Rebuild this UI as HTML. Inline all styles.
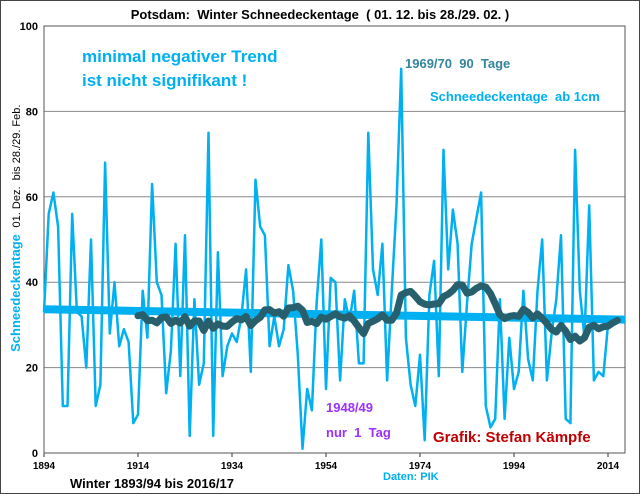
<!DOCTYPE html>
<html><head><meta charset="utf-8"><style>
body{margin:0;background:#fff}
svg{display:block;font-family:"Liberation Sans",sans-serif}
text{white-space:pre}
</style></head><body>
<svg id="c" width="640" height="494" viewBox="0 0 640 494">
<rect x="0.5" y="0.5" width="639" height="493" fill="#fff" stroke="#444"/>
<text x="320" y="19" text-anchor="middle" font-size="13" font-weight="bold">Potsdam:  Winter Schneedeckentage  ( 01. 12. bis 28./29. 02. )</text>
<g id="grid"></g>
<rect x="44" y="26" width="581" height="427" fill="none" stroke="#555"/>
<g id="marks"></g>
<text x="82" y="62" font-size="17" font-weight="bold" fill="#00b0f0">minimal negativer Trend</text>
<text x="82" y="86" font-size="17" font-weight="bold" fill="#00b0f0">ist nicht signifikant !</text>
<text x="405" y="68" font-size="13" font-weight="bold" fill="#31859c">1969/70  90  Tage</text>
<text x="430" y="101" font-size="13" font-weight="bold" fill="#00b0f0">Schneedeckentage  ab 1cm</text>
<text x="326" y="412" font-size="13" font-weight="bold" fill="#9b30ff">1948/49</text>
<text x="326" y="437" font-size="13" font-weight="bold" fill="#9b30ff">nur  1  Tag</text>
<text x="433" y="442" font-size="15" font-weight="bold" fill="#c00000">Grafik: Stefan Kämpfe</text>
<text x="20" y="293" font-size="13" font-weight="bold" fill="#00b0f0" text-anchor="middle" transform="rotate(-90 20 293)">Schneedeckentage</text>
<text x="20" y="166" font-size="11" fill="#000" text-anchor="middle" transform="rotate(-90 20 166)">01. Dez.  bis 28./29. Feb.</text>
<text x="70" y="488" font-size="13" font-weight="bold">Winter 1893/94 bis 2016/17</text>
<text x="383" y="480" font-size="11" font-weight="bold" fill="#00b0f0">Daten: PIK</text>
</svg>
<script>
const firstYear = 1894;
const snowDays = [33,56,61,53,11,11,56,33,32,20,50,11,16,68,28,40,25,29,26,7,9,38,27,63,40,37,14,24,49,18,51,4,36,16,21,75,4,47,18,25,28,26,32,43,19,64,53,51,25,32,25,29,44,38,23,1,15,10,35,50,15,41,40,17,36,31,38,21,21,75,43,37,49,17,38,58,90,27,16,11,23,3,37,45,18,71,43,57,49,19,35,49,55,61,11,6,8,36,8,27,15,19,38,22,17,38,50,17,28,36,51,8,7,71,38,27,58,17,19,18,30,31,31];
const yTicks = [0,20,40,60,80,100];
const xTicks = [1894,1914,1934,1954,1974,1994,2014];
const NS="http://www.w3.org/2000/svg";
const X0=44,PX=4.7,Y0=453,PY=4.27;
const xs=yr=>X0+(yr-1894)*PX, ys=v=>Y0-v*PY;
function mk(t,a,p){const e=document.createElementNS(NS,t);for(const k in a)e.setAttribute(k,a[k]);(p||document.getElementById('marks')).appendChild(e);return e;}
const grid=document.getElementById('grid');
yTicks.forEach(v=>{
  if(v>0&&v<100){const l=mk('line',{x1:X0,x2:625,y1:ys(v),y2:ys(v),stroke:'#888','stroke-width':1},grid);
  
  }
  const t=mk('text',{x:38,y:ys(v)+4,'text-anchor':'end','font-size':11,'font-weight':'bold'},grid);t.textContent=v;
  
  
});
xTicks.forEach(yr=>{
  mk('line',{x1:xs(yr),x2:xs(yr),y1:Y0,y2:Y0+4,stroke:'#333'},grid);
  const t=mk('text',{x:xs(yr),y:469,'text-anchor':'middle','font-size':10,'font-weight':'bold'},grid);t.textContent=yr;
  
  
});
const years=snowDays.map((_,i)=>firstYear+i);
const p1=mk('polyline',{points:snowDays.map((v,i)=>xs(years[i])+','+ys(v)).join(' '),fill:'none',stroke:'#00b0f0','stroke-width':2.5,'stroke-linejoin':'round'});


const n=snowDays.length,mx=years.reduce((a,b)=>a+b)/n,my=snowDays.reduce((a,b)=>a+b)/n;
let sxy=0,sxx=0;years.forEach((y,i)=>{sxy+=(y-mx)*(snowDays[i]-my);sxx+=(y-mx)*(y-mx);});
const b=sxy/sxx,a=my-b*mx;
const tl=mk('line',{x1:xs(years[0]),y1:ys(a+b*years[0]),x2:625,y2:ys(a+b*(years[0]+(625-X0)/PX)),stroke:'#00b0f0','stroke-width':8});


const W=21,pts=[];
for(let i=W-1;i<n;i++){let s=0;for(let j=i-W+1;j<=i;j++)s+=snowDays[j];pts.push(xs(years[i])+','+ys(s/W));}
const ma=mk('polyline',{points:pts.join(' '),fill:'none',stroke:'#275f6d','stroke-width':7,'stroke-linejoin':'round','stroke-linecap':'round'});


</script>
</body></html>
